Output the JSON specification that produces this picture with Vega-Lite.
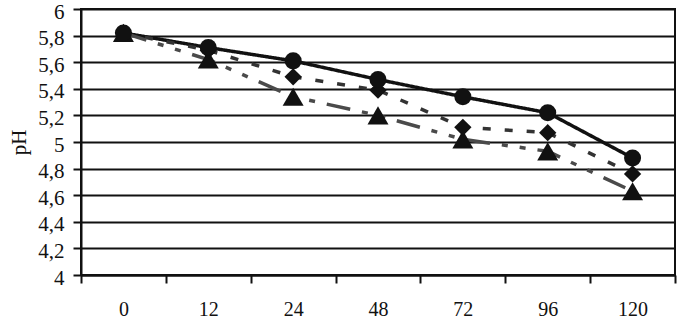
{
  "$schema": "https://vega.github.io/schema/vega-lite/v6.json",
  "autosize": "none",
  "width": 594,
  "height": 266,
  "padding": {"left": 81, "top": 9, "right": 2, "bottom": 44},
  "background": "white",
  "config": {
    "view": {"stroke": "#111", "strokeWidth": 2},
    "font": "Liberation Serif"
  },
  "data": {
    "values": [
      {"t": 0, "s": "A", "pH": 5.82}, {"t": 12, "s": "A", "pH": 5.71}, {"t": 24, "s": "A", "pH": 5.61}, {"t": 48, "s": "A", "pH": 5.47}, {"t": 72, "s": "A", "pH": 5.34}, {"t": 96, "s": "A", "pH": 5.22}, {"t": 120, "s": "A", "pH": 4.88},
      {"t": 0, "s": "B", "pH": 5.82}, {"t": 12, "s": "B", "pH": 5.69}, {"t": 24, "s": "B", "pH": 5.49}, {"t": 48, "s": "B", "pH": 5.39}, {"t": 72, "s": "B", "pH": 5.11}, {"t": 96, "s": "B", "pH": 5.07}, {"t": 120, "s": "B", "pH": 4.76},
      {"t": 0, "s": "C", "pH": 5.82}, {"t": 12, "s": "C", "pH": 5.62}, {"t": 24, "s": "C", "pH": 5.34}, {"t": 48, "s": "C", "pH": 5.2}, {"t": 72, "s": "C", "pH": 5.02}, {"t": 96, "s": "C", "pH": 4.93}, {"t": 120, "s": "C", "pH": 4.63}
    ]
  },
  "encoding": {
    "x": {
      "field": "t", "type": "ordinal",
      "scale": {"type": "band", "paddingInner": 0, "paddingOuter": 0},
      "axis": {
        "title": null, "labelAngle": 0, "labelFontSize": 20, "labelColor": "#111",
        "tickBand": "extent", "tickSize": 8, "tickWidth": 2, "tickColor": "#111",
        "domain": true, "domainColor": "#111", "domainWidth": 2,
        "labelPadding": 16, "grid": false
      }
    },
    "y": {
      "field": "pH", "type": "quantitative",
      "scale": {"domain": [4, 6], "nice": false, "zero": false},
      "axis": {
        "title": "pH", "titleFontSize": 21, "titleFontWeight": "normal", "titleColor": "#111", "titlePadding": 8,
        "values": [4, 4.2, 4.4, 4.6, 4.8, 5, 5.2, 5.4, 5.6, 5.8, 6],
        "labelExpr": "replace(format(datum.value, '.1~f'), '.', ',')",
        "labelFontSize": 21, "labelColor": "#111", "labelPadding": 9, "labelOffset": 3, "labelBound": false,
        "tickSize": 8, "tickWidth": 2, "tickColor": "#111",
        "domainColor": "#111", "domainWidth": 2,
        "grid": true, "gridColor": "#111", "gridWidth": 2
      }
    }
  },
  "layer": [
    {
      "mark": {"type": "line", "strokeWidth": 3.5},
      "encoding": {
        "color": {"field": "s", "type": "nominal", "scale": {"domain": ["A", "B", "C"], "range": ["#111111", "#333333", "#4a4a4a"]}, "legend": null},
        "strokeDash": {"field": "s", "type": "nominal", "scale": {"domain": ["A", "B", "C"], "range": [[1, 0], [8, 14], [24, 12, 6, 12, 6, 12]]}, "legend": null}
      }
    },
    {
      "transform": [{"filter": "datum.s === 'C'"}],
      "mark": {"type": "point", "shape": "triangle-up", "size": 440, "filled": true, "opacity": 1, "color": "#111"}
    },
    {
      "transform": [{"filter": "datum.s === 'B'"}],
      "mark": {"type": "point", "shape": "diamond", "size": 300, "filled": true, "opacity": 1, "color": "#111"}
    },
    {
      "transform": [{"filter": "datum.s === 'A'"}],
      "mark": {"type": "point", "shape": "circle", "size": 290, "filled": true, "opacity": 1, "color": "#111"}
    }
  ]
}
